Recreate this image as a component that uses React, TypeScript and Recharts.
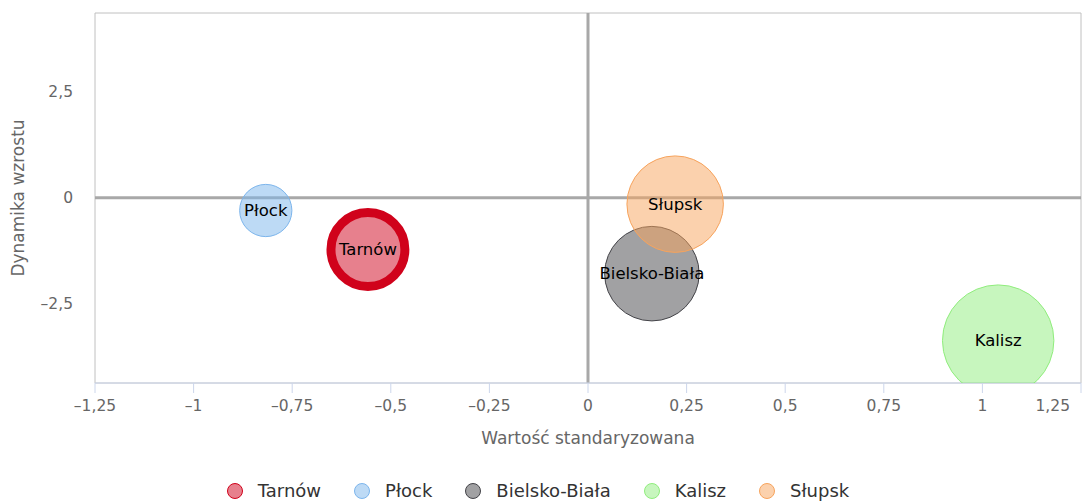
import React from 'react';
import {
  ScatterChart,
  Scatter,
  XAxis,
  YAxis,
  ZAxis,
  ReferenceLine,
  ReferenceArea,
  Label,
} from 'recharts';

// --- Data ---
const CITIES = ['Tarnów', 'Płock', 'Bielsko-Biała', 'Kalisz', 'Słupsk'];
const STANDARD_VALUE = [-0.558, -0.817, 0.162, 1.04, 0.221]; // x
const GROWTH = [-1.22, -0.3, -1.79, -3.37, -0.15]; // y
const BUBBLE_SIZE = [44, 22, 72, 100, 75]; // z
const COLORS = ['#d0021b', '#7cb5ec', '#434348', '#90ed7d', '#f7a35c'];
const HIGHLIGHT = 'Tarnów';

const X_TICKS = [-1.25, -1, -0.75, -0.5, -0.25, 0, 0.25, 0.5, 0.75, 1, 1.25];
const Y_TICKS = [-2.5, 0, 2.5];
const X_DOMAIN: [number, number] = [-1.25, 1.25];
const Y_DOMAIN: [number, number] = [-4.37, 4.36];

const FONT = '"DejaVu Sans", sans-serif';
const AXIS_TEXT = '#666666';

// polish number format: decimal comma, dash for minus
const fmt = (v: number) => String(v).replace('.', ',').replace('-', '–');

function XTick(props: any) {
  const { x, y, payload } = props;
  const last = payload.value === X_TICKS[X_TICKS.length - 1];
  return (
    <text
      x={last ? x + 1 : x}
      y={y}
      dy="0.71em"
      textAnchor={last ? 'end' : 'middle'}
      fill={AXIS_TEXT}
      fontSize={15.5}
      fontFamily={FONT}
    >
      {fmt(payload.value)}
    </text>
  );
}

function Bubble(props: any) {
  const { cx, cy, width, payload, color, strokeWidth } = props;
  const r = width / 2;
  return (
    <g>
      <circle cx={cx} cy={cy} r={r} fill={color} fillOpacity={0.5} stroke={color} strokeWidth={strokeWidth} />
      <text
        x={cx}
        y={cy}
        textAnchor="middle"
        dominantBaseline="central"
        fontSize={16.5}
        fontFamily={FONT}
        fill="#000"
      >
        {payload.name}
      </text>
    </g>
  );
}

function LegendRow() {
  return (
    <div
      style={{
        position: 'absolute',
        top: 480,
        left: 0,
        width: 1076,
        display: 'flex',
        justifyContent: 'center',
        alignItems: 'center',
        fontFamily: FONT,
        fontSize: 18,
        color: '#333',
      }}
    >
      {CITIES.map((name, i) => (
        <div
          key={name}
          style={{ display: 'flex', alignItems: 'center', marginRight: i < CITIES.length - 1 ? 33 : 0 }}
        >
          <svg width={16} height={16} style={{ marginRight: 15 }}>
            <circle cx={8} cy={8} r={7.5} fill={COLORS[i]} fillOpacity={0.5} stroke={COLORS[i]} strokeWidth={1} />
          </svg>
          <span>{name}</span>
        </div>
      ))}
    </div>
  );
}

export default function App() {
  return (
    <div style={{ position: 'absolute', left: 0, top: 0, width: 1083, height: 501, background: '#fff' }}>
      <ScatterChart width={1083} height={501} margin={{ top: 13, right: 2, left: 0, bottom: 48 }}>
        <ReferenceArea
          x1={X_DOMAIN[0]}
          x2={X_DOMAIN[1]}
          y1={Y_DOMAIN[0]}
          y2={Y_DOMAIN[1]}
          fill="none"
          fillOpacity={0}
          stroke="#c0c0c0"
          strokeWidth={1}
        />
        <XAxis
          dataKey="x"
          type="number"
          domain={X_DOMAIN}
          ticks={X_TICKS}
          allowDataOverflow
          height={70}
          axisLine={{ stroke: '#ccd6eb', strokeWidth: 1 }}
          tickLine={{ stroke: '#ccd6eb' }}
          tickSize={10}
          tickMargin={7}
          tick={<XTick />}
        >
          <Label
            value="Wartość standaryzowana"
            position="insideTop"
            offset={49}
            style={{ fill: AXIS_TEXT, fontSize: 17, fontFamily: FONT }}
          />
        </XAxis>
        <YAxis
          dataKey="y"
          type="number"
          domain={Y_DOMAIN}
          ticks={Y_TICKS}
          allowDataOverflow
          width={95}
          axisLine={false}
          tickLine={false}
          tickSize={0}
          tickMargin={22}
          tickFormatter={fmt}
          tick={{ fill: AXIS_TEXT, fontSize: 15.5, fontFamily: FONT }}
        >
          <Label
            value="Dynamika wzrostu"
            angle={-90}
            position="insideLeft"
            offset={18}
            style={{ textAnchor: 'middle', fill: AXIS_TEXT, fontSize: 17, fontFamily: FONT }}
          />
        </YAxis>
        <ZAxis dataKey="z" type="number" domain={[0, 100]} range={[0, 9747]} />
        <ReferenceLine x={0} stroke="#a8a8a8" strokeWidth={3} />
        <ReferenceLine y={0} stroke="#a8a8a8" strokeWidth={3} />
        {CITIES.map((name, i) => (
          <Scatter
            key={name}
            name={name}
            data={[{ x: STANDARD_VALUE[i], y: GROWTH[i], z: BUBBLE_SIZE[i], name }]}
            fill={COLORS[i]}
            isAnimationActive={false}
            shape={(p: any) => (
              <Bubble {...p} color={COLORS[i]} strokeWidth={name === HIGHLIGHT ? 9 : 1} />
            )}
          />
        ))}
      </ScatterChart>
      <LegendRow />
    </div>
  );
}
